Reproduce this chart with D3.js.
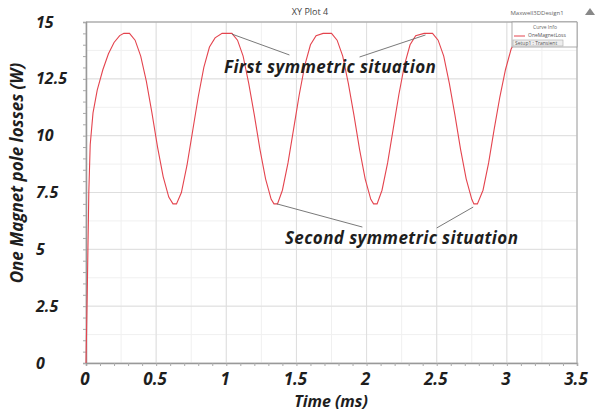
<!DOCTYPE html>
<html>
<head>
<meta charset="utf-8">
<script src="https://cdn.jsdelivr.net/npm/d3@7"></script>
<style>
  body { margin: 0; background: #fff; }
  text { font-family: "Open Sans", sans-serif; }
</style>
</head>
<body>
<div id="chart"></div>
<script>
// time (ms) and loss (W)
const times = [0.00, 0.01, 0.02, 0.03, 0.05, 0.08, 0.12, 0.16, 0.20, 0.24, 0.27, 0.31,
  0.35, 0.39, 0.43, 0.47, 0.51, 0.55, 0.59, 0.62, 0.645, 0.68, 0.72, 0.76, 0.80, 0.84,
  0.88, 0.92, 0.97, 1.04, 1.08, 1.12, 1.16, 1.20, 1.24, 1.28, 1.32, 1.34, 1.365, 1.40,
  1.44, 1.48, 1.52, 1.56, 1.60, 1.64, 1.69, 1.75, 1.79, 1.83, 1.87, 1.91, 1.95, 1.99,
  2.03, 2.05, 2.075, 2.11, 2.15, 2.19, 2.23, 2.27, 2.31, 2.35, 2.41, 2.47, 2.51, 2.55,
  2.59, 2.63, 2.67, 2.71, 2.75, 2.765, 2.79, 2.83, 2.87, 2.91, 2.95, 2.99, 3.03, 3.07];
const losses = [0.0, 3.5, 7.5, 9.6, 11.0, 12.0, 12.9, 13.6, 14.1, 14.4, 14.5, 14.5,
  14.2, 13.5, 12.4, 11.0, 9.5, 8.2, 7.3, 7.0, 7.0, 7.5, 8.7, 10.2, 11.7, 13.0,
  13.9, 14.3, 14.5, 14.5, 14.2, 13.5, 12.3, 10.9, 9.4, 8.1, 7.2, 7.0, 7.0, 7.6,
  8.8, 10.3, 11.8, 13.1, 14.0, 14.4, 14.5, 14.5, 14.2, 13.5, 12.3, 10.9, 9.4, 8.1,
  7.2, 7.0, 7.0, 7.6, 8.8, 10.3, 11.8, 13.1, 14.0, 14.4, 14.5, 14.5, 14.2, 13.5,
  12.3, 10.9, 9.4, 8.1, 7.2, 7.0, 7.0, 7.6, 8.8, 10.3, 11.7, 12.9, 13.8, 14.3];

const xTicks = [0, 0.5, 1, 1.5, 2, 2.5, 3, 3.5];
const xTickLabels = ["0", "0.5", "1", "1.5", "2", "2.5", "3", "3.5"];
const yTicks = [0, 2.5, 5, 7.5, 10, 12.5, 15];
const yTickLabels = ["0", "2.5", "5", "7.5", "10", "12.5", "15"];

// annotations: label text + leader lines in data units [t1, v1, t2, v2]
const notes = [
  { text: "First symmetric situation", t: 1.74, v: 13.0,
    lines: [[1.04, 14.47, 1.45, 13.55], [1.95, 13.46, 2.42, 14.43]] },
  { text: "Second symmetric situation", t: 2.25, v: 5.5,
    lines: [[1.36, 7.0, 1.97, 5.98], [2.50, 5.94, 2.76, 6.86]] }
];

const W = 607, H = 415;
const margin = { top: 22, right: 30, bottom: 52, left: 86 };
const width = W - margin.left - margin.right,
      height = H - margin.top - margin.bottom;

const svg = d3.select("#chart").append("svg")
  .attr("width", W).attr("height", H);
const g = svg.append("g")
  .attr("transform", `translate(${margin.left},${margin.top})`);

const x = d3.scaleLinear().domain([0, 3.5]).range([0, width]);
const y = d3.scaleLinear().domain([0, 15]).range([height, 0]);

function boldItalic(sel, size) {
  sel.style("font-size", size + "px").style("font-weight", "bold")
    .style("font-style", "italic").style("fill", "#1e1e1e");
}

// minor grid
g.append("g").selectAll("line")
  .data(d3.range(0, 3.5001, 0.25))
  .join("line")
    .attr("x1", d => x(d)).attr("x2", d => x(d))
    .attr("y1", 0).attr("y2", height)
    .attr("stroke", "#f0f0f0");
g.append("g").selectAll("line")
  .data(d3.range(0, 15.001, 1.25))
  .join("line")
    .attr("y1", d => y(d)).attr("y2", d => y(d))
    .attr("x1", 0).attr("x2", width)
    .attr("stroke", "#f0f0f0");

// major grid
g.append("g").selectAll("line")
  .data(xTicks)
  .join("line")
    .attr("x1", d => x(d)).attr("x2", d => x(d))
    .attr("y1", 0).attr("y2", height)
    .attr("stroke", "#dedede");
g.append("g").selectAll("line")
  .data(yTicks)
  .join("line")
    .attr("y1", d => y(d)).attr("y2", d => y(d))
    .attr("x1", 0).attr("x2", width)
    .attr("stroke", "#dedede");

// frame
g.append("line").attr("x1", 0).attr("x2", width).attr("y1", 0).attr("y2", 0)
  .attr("stroke", "#999");
g.append("line").attr("x1", width).attr("x2", width).attr("y1", 0).attr("y2", height)
  .attr("stroke", "#aaa");

// axes with small minor ticks
const xAxis = g.append("g")
  .attr("transform", `translate(0,${height})`)
  .call(d3.axisBottom(x).tickValues(d3.range(0, 3.5001, 0.1)).tickSize(3).tickFormat(""));
const yAxis = g.append("g")
  .call(d3.axisLeft(y).tickValues(d3.range(0, 15.001, 0.5)).tickSize(3).tickFormat(""));
[xAxis, yAxis].forEach(a => {
  a.selectAll("path").attr("stroke", "#999").attr("stroke-width", 1.5);
  a.selectAll("line").attr("stroke", "#aaa");
});

// tick labels
g.append("g").selectAll("text")
  .data(xTicks)
  .join("text")
    .attr("x", d => x(d) - 1)
    .attr("y", height + 22)
    .attr("text-anchor", "middle")
    .call(boldItalic, 17)
    .text((d, i) => xTickLabels[i]);
g.append("g").selectAll("text")
  .data(yTicks)
  .join("text")
    .attr("x", 36 - margin.left)
    .attr("y", d => y(d))
    .attr("dy", "0.35em")
    .attr("text-anchor", "start")
    .call(boldItalic, 16)
    .text((d, i) => yTickLabels[i]);

// axis titles
svg.append("text")
  .attr("x", 331).attr("y", 407)
  .attr("text-anchor", "middle")
  .call(boldItalic, 16)
  .text("Time (ms)");
svg.append("text")
  .attr("transform", "translate(23,173) rotate(-90)")
  .attr("text-anchor", "middle")
  .call(boldItalic, 17)
  .text("One Magnet pole losses (W)");

// curve
const pts = times.map((t, i) => [t, losses[i]]);
g.append("path")
  .datum(pts)
  .attr("fill", "none")
  .attr("stroke", "#e4444e")
  .attr("stroke-width", 1.1)
  .attr("d", d3.line().x(d => x(d[0])).y(d => y(d[1])));

// annotations
notes.forEach(n => {
  n.lines.forEach(l => {
    g.append("line")
      .attr("x1", x(l[0])).attr("y1", y(l[1]))
      .attr("x2", x(l[2])).attr("y2", y(l[3]))
      .attr("stroke", "#6a6a6a").attr("stroke-width", 0.9);
  });
  g.append("text")
    .attr("x", x(n.t)).attr("y", y(n.v))
    .attr("dy", "0.35em")
    .attr("text-anchor", "middle")
    .style("letter-spacing", "0.4px")
    .call(boldItalic, 17)
    .text(n.text);
});

// title and header bits
svg.append("text")
  .attr("x", 310).attr("y", 15)
  .attr("text-anchor", "middle")
  .style("font-size", "9px").style("fill", "#444")
  .text("XY Plot 4");
svg.append("text")
  .attr("x", 537).attr("y", 15)
  .attr("text-anchor", "middle")
  .style("font-size", "6px").style("fill", "#666")
  .text("Maxwell3DDesign1");
svg.append("path")
  .attr("d", "M585,15 L590,8 L595,15 Z")
  .attr("fill", "#888");

// legend
const lg = svg.append("g");
lg.append("rect")
  .attr("x", 512).attr("y", 22).attr("width", 65).attr("height", 25)
  .attr("fill", "#fff").attr("stroke", "#999").attr("stroke-width", 0.8);
lg.append("text").attr("x", 545).attr("y", 29).attr("text-anchor", "middle")
  .style("font-size", "5px").style("fill", "#666").text("Curve Info");
lg.append("line").attr("x1", 514).attr("x2", 525).attr("y1", 36).attr("y2", 36)
  .attr("stroke", "#e4444e");
lg.append("text").attr("x", 528).attr("y", 37)
  .style("font-size", "5px").style("fill", "#555").text("OneMagnetLoss");
lg.append("rect")
  .attr("x", 513).attr("y", 40).attr("width", 50).attr("height", 6)
  .attr("fill", "#eee").attr("stroke", "#aaa").attr("stroke-width", 0.6);
lg.append("text").attr("x", 515).attr("y", 45)
  .style("font-size", "5px").style("fill", "#555").text("Setup1 : Transient");
</script>
</body>
</html>
